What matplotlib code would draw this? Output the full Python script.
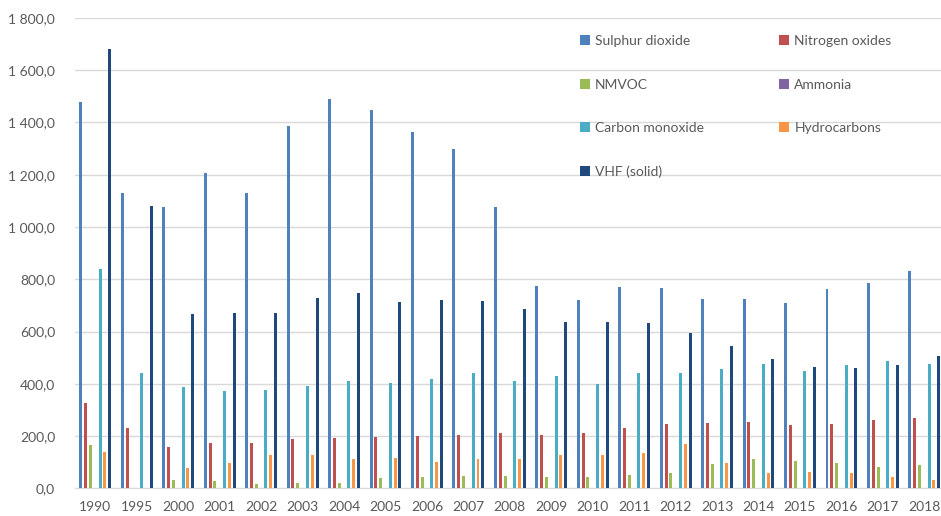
import numpy as np
import matplotlib
matplotlib.use("Agg")
import matplotlib.pyplot as plt
from matplotlib.ticker import FuncFormatter

#Years on the x axis
years = ["1990", "1995", "2000", "2001", "2002", "2003", "2004", "2005", "2006", "2007", "2008",
         "2009", "2010", "2011", "2012", "2013", "2014", "2015", "2016", "2017", "2018"]

#Emission values (one list per series)
sulphur_dioxide = [1480, 1130, 1078, 1206, 1130, 1385, 1491, 1449, 1363, 1300, 1076,
                   776, 721, 770, 766, 725, 725, 708, 763, 785, 833]
nitrogen_oxides = [325, 230, 159, 175, 172, 189, 194, 198, 200, 204, 211,
                   204, 213, 230, 246, 249, 255, 242, 246, 262, 268]
nmvoc = [166, 0, 32, 28, 16, 19, 19, 38, 44, 47, 47,
         42, 44, 51, 57, 92, 111, 105, 98, 83, 89]
ammonia = [2, 0, 3, 2, 2, 2, 2, 2, 2, 2, 2,
           2, 2, 2, 2, 2, 2, 2, 2, 2, 2]
carbon_monoxide = [839, 443, 389, 373, 376, 392, 411, 404, 419, 440, 411,
                   430, 398, 443, 443, 456, 475, 447, 470, 489, 475]
hydrocarbons = [138, 0, 77, 96, 128, 128, 111, 115, 102, 111, 111,
                128, 128, 134, 168, 96, 60, 64, 60, 42, 32]
vhf_solid = [1681, 1082, 666, 670, 670, 730, 749, 712, 719, 715, 687,
             638, 638, 632, 594, 546, 494, 466, 460, 472, 507]

series_names = ["Sulphur dioxide", "Nitrogen oxides", "NMVOC", "Ammonia",
                "Carbon monoxide", "Hydrocarbons", "VHF (solid)"]
series_values = [sulphur_dioxide, nitrogen_oxides, nmvoc, ammonia,
                 carbon_monoxide, hydrocarbons, vhf_solid]
series_colors = ["#4F81BD", "#C0504D", "#9BBB59", "#8064A2", "#4BACC6", "#F79646", "#1F497D"]

plt.rcParams["font.family"] = ["Lato", "DejaVu Sans"]
text_color = "#595959"

fig = plt.figure(figsize=(9.41, 5.16), dpi=100)
#axes runs a little past the right edge, like the cropped original
ax = fig.add_axes([0.0793, 0.0537, 0.925, 0.9115])

x = np.arange(len(years))
slot = 0.116
bar_w = 0.072
bars = []
for j, (name, vals, col) in enumerate(zip(series_names, series_values, series_colors)):
    bars.append(ax.bar(x + (j - 3) * slot, vals, width=bar_w, color=col, label=name, zorder=3))

ax.set_xlim(-0.5, len(years) - 0.5)
ax.set_ylim(0, 1800)
ax.set_yticks(np.arange(0, 1801, 200))
ax.yaxis.set_major_formatter(FuncFormatter(lambda v, p: "{:,.1f}".format(v).replace(",", " ").replace(".", ",")))
ax.set_xticks(x)
ax.set_xticklabels(years)

#Excel-like look: grid only, no frame
ax.grid(axis="y", color="#D9D9D9", linewidth=1, zorder=0)
for side in ["top", "right", "left"]:
    ax.spines[side].set_visible(False)
ax.spines["bottom"].set_color("#D9D9D9")
ax.tick_params(axis="both", length=0, labelsize=10, labelcolor=text_color)
ax.tick_params(axis="x", pad=9)
ax.tick_params(axis="y", pad=14)

#legend is filled row by row in the original, matplotlib fills columns, so reorder
order = [0, 2, 4, 6, 1, 3, 5]
ax.legend([bars[i] for i in order], [series_names[i] for i in order],
          loc="upper left", bbox_to_anchor=(0.566, 0.99), ncol=2, frameon=False,
          fontsize=10, labelcolor=text_color, handlelength=0.7, handleheight=0.7,
          handletextpad=0.4, columnspacing=5.4, labelspacing=2.26)

fig.savefig("out.png", dpi=100)
